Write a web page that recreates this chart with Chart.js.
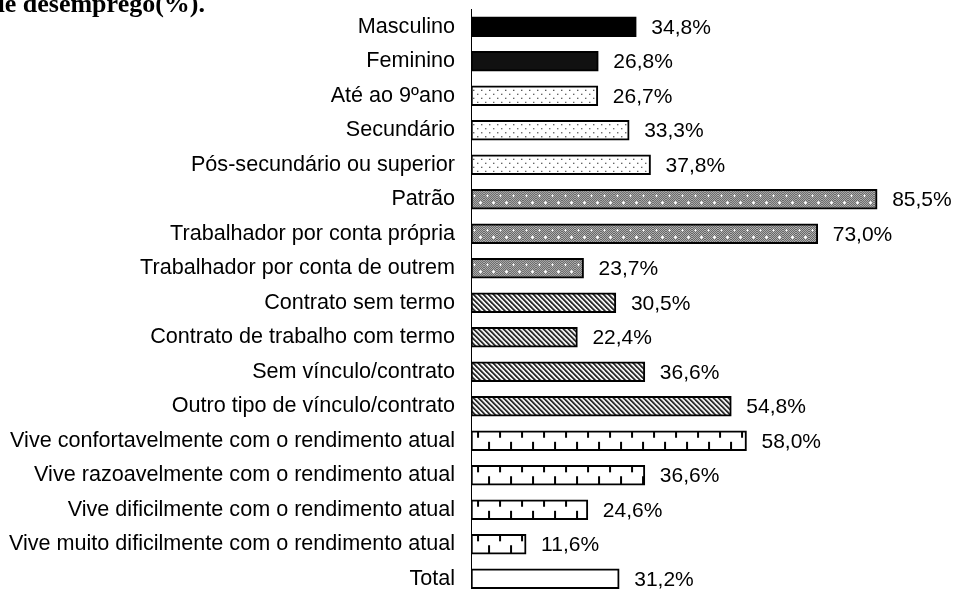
<!DOCTYPE html>
<html>
<head>
<meta charset="utf-8">
<script src="https://cdn.jsdelivr.net/npm/chart.js@4.4.1/dist/chart.umd.min.js"></script>
<style>
  html, body { margin: 0; padding: 0; background: #fff; overflow: hidden; }
  #grafico { display: block; }
</style>
</head>
<body>
<canvas id="grafico" width="955" height="600"></canvas>
<script>
// --- dados ---
const categorias = [
    'Masculino',
    'Feminino',
    'Até ao 9ºano',
    'Secundário',
    'Pós-secundário ou superior',
    'Patrão',
    'Trabalhador por conta própria',
    'Trabalhador por conta de outrem',
    'Contrato sem termo',
    'Contrato de trabalho com termo',
    'Sem vínculo/contrato',
    'Outro tipo de vínculo/contrato',
    'Vive confortavelmente com o rendimento atual',
    'Vive razoavelmente com o rendimento atual',
    'Vive dificilmente com o rendimento atual',
    'Vive muito dificilmente com o rendimento atual',
    'Total'
];
const valores = [34.8, 26.8, 26.7, 33.3, 37.8, 85.5, 73.0, 23.7, 30.5, 22.4, 36.6, 54.8, 58.0, 36.6, 24.6, 11.6, 31.2];
const titulo = 'de desemprego(%).';

// padrão de preenchimento por grupo (sexo, escolaridade, situação, contrato, rendimento, total)
const padroes = ['preto', 'preto2', 'pontos', 'pontos', 'pontos', 'xadrez', 'xadrez', 'xadrez',
    'riscas', 'riscas', 'riscas', 'riscas', 'dentes', 'dentes', 'dentes', 'dentes', 'branco'];

const ESPESSURA = 20;
const FONTE = '"Liberation Sans", Arial, sans-serif';

function criarTile(tipo) {
    const c = document.createElement('canvas');
    const g = c.getContext('2d');
    if (tipo === 'pontos') {
        c.width = 8; c.height = ESPESSURA;
        g.fillStyle = '#fff'; g.fillRect(0, 0, 8, ESPESSURA);
        [4, 8, 12, 16].forEach((y, k) => {
            const x = k % 2 ? 6 : 2;
            g.fillStyle = '#333'; g.fillRect(x, y, 1, 1);
            g.fillStyle = '#aaa'; g.fillRect(x + 1, y, 1, 1);
        });
    } else if (tipo === 'xadrez') {
        c.width = 13; c.height = ESPESSURA;
        for (let y = 0; y < ESPESSURA; y++) {
            for (let x = 0; x < 13; x++) {
                g.fillStyle = (x + y) % 2 ? '#4a4a4a' : '#cccccc';
                g.fillRect(x, y, 1, 1);
            }
        }
        g.fillStyle = '#fff';
        [[3, 6], [9, 13]].forEach(([cx, cy]) => {
            g.fillRect(cx - 1, cy, 3, 1);
            g.fillRect(cx, cy - 1, 1, 3);
        });
    } else if (tipo === 'riscas') {
        c.width = 5; c.height = ESPESSURA;
        for (let y = 0; y < ESPESSURA; y++) {
            for (let x = 0; x < 5; x++) {
                const d = ((x - y) % 5 + 5) % 5;
                g.fillStyle = d < 2 ? '#222' : (d === 2 ? '#888' : '#fff');
                g.fillRect(x, y, 1, 1);
            }
        }
    } else if (tipo === 'dentes') {
        c.width = 22; c.height = ESPESSURA;
        g.fillStyle = '#fff'; g.fillRect(0, 0, 22, ESPESSURA);
        g.fillStyle = '#000';
        g.fillRect(6, 0, 2, 7);
        g.fillRect(17, ESPESSURA - 9, 2, 9);
    }
    return c;
}

const tiles = {};
['pontos', 'xadrez', 'riscas', 'dentes'].forEach(t => tiles[t] = criarTile(t));

function preenchimento(ctx) {
    const tipo = padroes[ctx.dataIndex];
    if (tipo === 'preto') return '#000';
    if (tipo === 'preto2') return '#111';
    if (tipo === 'branco' || !tipo) return '#fff';
    const escala = ctx.chart.scales.y;
    const area = ctx.chart.chartArea;
    if (!escala || !area) return '#fff';
    const cy = escala.getPixelForValue(ctx.dataIndex);
    if (!isFinite(cy)) return '#fff';
    const pat = ctx.chart.ctx.createPattern(tiles[tipo], 'repeat');
    pat.setTransform(new DOMMatrix().translate(area.left, cy - ESPESSURA / 2));
    return pat;
}

const pluginTextos = {
    id: 'textos',
    afterDatasetsDraw(chart) {
        const ctx = chart.ctx;
        const meta = chart.getDatasetMeta(0);
        ctx.save();
        ctx.fillStyle = '#000';
        ctx.font = '21px ' + FONTE;
        ctx.textAlign = 'left';
        ctx.textBaseline = 'middle';
        meta.data.forEach((barra, i) => {
            const txt = valores[i].toFixed(1).replace('.', ',') + '%';
            ctx.fillText(txt, barra.x + 15, barra.y + 1);
        });
        // título cortado no topo
        ctx.font = 'bold 26px "Liberation Serif", "Times New Roman", serif';
        ctx.textAlign = 'right';
        ctx.textBaseline = 'alphabetic';
        ctx.fillText(titulo, 205, 12);
        ctx.restore();
    }
};

Chart.defaults.font.family = FONTE;

new Chart(document.getElementById('grafico'), {
    type: 'bar',
    data: {
        labels: categorias,
        datasets: [{
            data: valores,
            backgroundColor: preenchimento,
            borderColor: '#000',
            borderWidth: 2,
            borderSkipped: false,
            barThickness: ESPESSURA
        }]
    },
    options: {
        indexAxis: 'y',
        responsive: false,
        devicePixelRatio: 1,
        animation: false,
        events: [],
        layout: { padding: { left: 0, right: 9, top: 9.5, bottom: 4 } },
        plugins: {
            legend: { display: false },
            tooltip: { enabled: false }
        },
        scales: {
            x: { display: false, min: 0, max: 100 },
            y: {
                offset: true,
                grid: { display: false, drawTicks: false },
                border: { display: true, color: '#000', width: 1 },
                ticks: { color: '#000', padding: 16, font: { size: 21.6 } },
                afterFit: s => {
                    s.width = 471;
                    s.paddingTop = 0;
                    s.paddingBottom = 0;
                }
            }
        }
    },
    plugins: [pluginTextos]
});
</script>
</body>
</html>
